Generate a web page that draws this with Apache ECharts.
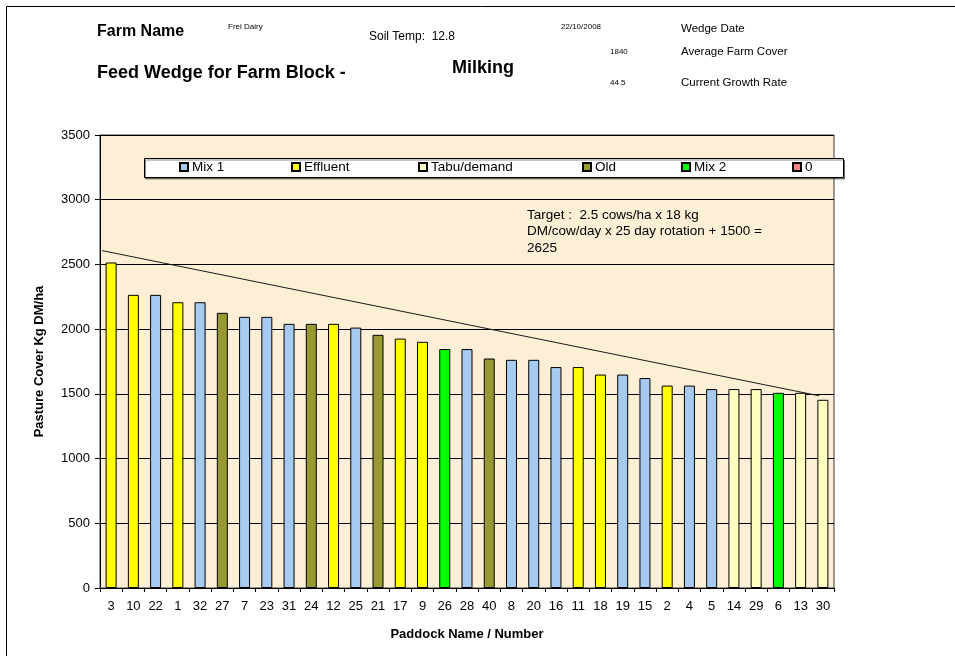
<!DOCTYPE html>
<html>
<head>
<meta charset="utf-8">
<script src="https://cdn.jsdelivr.net/npm/echarts@6/dist/echarts.min.js"></script>
<style>
  html, body { margin: 0; padding: 0; background: #fff; }
  #chart { width: 955px; height: 656px; }
</style>
</head>
<body>
<div id="chart"></div>
<script>
// paddocks, sorted by cover
var paddocks = ["3", "10", "22", "1", "32", "27", "7", "23", "31", "24", "12", "25", "21", "17", "9", "26", "28",
  "40", "8", "20", "16", "11", "18", "19", "15", "2", "4", "5", "14", "29", "6", "13", "30"];
var cover = [2515, 2265, 2265, 2208, 2208, 2126, 2095, 2095, 2041, 2041, 2041, 2012, 1956, 1927, 1902, 1846, 1846,
  1773, 1763, 1763, 1707, 1707, 1649, 1649, 1622, 1564, 1564, 1537, 1537, 1537, 1508, 1508, 1454];
var paddockType = ["Effluent", "Effluent", "Mix 1", "Effluent", "Mix 1", "Old", "Mix 1", "Mix 1", "Mix 1", "Old",
  "Effluent", "Mix 1", "Old", "Effluent", "Effluent", "Mix 2", "Mix 1", "Old", "Mix 1", "Mix 1", "Mix 1",
  "Effluent", "Effluent", "Mix 1", "Mix 1", "Effluent", "Mix 1", "Mix 1", "Tabu/demand", "Tabu/demand",
  "Mix 2", "Tabu/demand", "Tabu/demand"];
var typeNames = ["Mix 1", "Effluent", "Tabu/demand", "Old", "Mix 2", "0"];
var typeColors = ["#A6CAF0", "#FFFF00", "#FFFFC0", "#999933", "#00FF00", "#FF8080"];
// target wedge line (position along the paddock axis, cover)
var targetX = [0.09, 32.33];
var targetY = [2607, 1485];
var yTicks = [0, 500, 1000, 1500, 2000, 2500, 3000, 3500];

var FONT = 'Arial, "Liberation Sans", sans-serif';
var chart = echarts.init(document.getElementById("chart"));

var series = typeNames.map(function (name, i) {
  return {
    name: name,
    type: "bar",
    stack: "cover",
    barWidth: 11,
    xAxisIndex: 0,
    itemStyle: { color: typeColors[i], borderColor: "#000", borderWidth: 1 },
    data: cover.map(function (v, j) {
      return paddockType[j] === name ? v : "-";
    }),
  };
});
series.push({
  name: "Target",
  type: "line",
  xAxisIndex: 1,
  symbol: "none",
  lineStyle: { color: "#1a1a1a", width: 1 },
  data: targetX.map(function (x, i) { return [x, targetY[i]]; }),
  z: 5,
});

// one legend per item so the spacing follows the original box
var legendLeft = [179, 291, 418, 582, 681, 792];
var legends = typeNames.map(function (name, i) {
  return {
    data: [name],
    left: legendLeft[i],
    top: 160,
    padding: 0,
    icon: "rect",
    itemWidth: 8,
    itemHeight: 8,
    itemGap: 4,
    selectedMode: false,
    textStyle: { fontFamily: FONT, fontSize: 13.5, color: "#000", padding: [2, 0, 0, -1] },
  };
});

function txt(x, y, s, size, bold) {
  return {
    type: "text",
    x: x,
    y: y,
    style: {
      text: s,
      font: (bold ? "bold " : "") + size + "px " + FONT,
      fill: "#000",
      verticalAlign: "middle",
    },
  };
}

chart.setOption({
  animation: false,
  backgroundColor: "#fff",
  grid: {
    left: 100,
    right: 121,
    top: 135,
    bottom: 68,
    show: true,
    backgroundColor: "#FCEFD6",
    borderColor: "#3a3a3a",
    borderWidth: 1,
  },
  legend: legends,
  xAxis: [
    {
      type: "category",
      data: paddocks,
      name: "Paddock Name / Number",
      nameLocation: "middle",
      nameGap: 40,
      nameTextStyle: { fontFamily: FONT, fontSize: 13, fontWeight: "bold", color: "#000" },
      axisLine: { lineStyle: { color: "#000" } },
      axisTick: { show: true, length: 4, lineStyle: { color: "#000" } },
      axisLabel: { fontFamily: FONT, fontSize: 13, color: "#000", margin: 12, interval: 0 },
    },
    { type: "value", min: 0, max: paddocks.length, show: false },
  ],
  yAxis: {
    type: "value",
    min: yTicks[0],
    max: yTicks[yTicks.length - 1],
    interval: yTicks[1] - yTicks[0],
    name: "Pasture Cover Kg DM/ha",
    nameLocation: "middle",
    nameGap: 54,
    nameTextStyle: { fontFamily: FONT, fontSize: 13, fontWeight: "bold", color: "#000" },
    axisLine: { show: true, lineStyle: { color: "#000" } },
    axisTick: { show: true, length: 5, lineStyle: { color: "#000" } },
    axisLabel: { fontFamily: FONT, fontSize: 13, color: "#000", margin: 10,
      formatter: function (v) { return String(v); } },
    splitLine: { lineStyle: { color: "#000", width: 1 } },
  },
  graphic: [
    // outer frame
    { type: "rect", left: 4, top: 4, z: -10, silent: true,
      shape: { x: 0, y: 0, width: 1000, height: 1000 },
      style: { fill: "none", stroke: "#000", lineWidth: 1 } },
    // legend box
    { type: "rect", left: 144, top: 158, z: 1,
      shape: { width: 699, height: 19 },
      style: { fill: "#fff", stroke: "#000", lineWidth: 1,
        shadowColor: "rgba(0,0,0,0.45)", shadowOffsetX: 1, shadowOffsetY: 1.5 } },
    txt(97, 32, "Farm Name", 16, true),
    txt(228, 27, "Frei Dairy", 8, false),
    txt(369, 37, "Soil Temp:  12.8", 12, false),
    txt(561, 27, "22/10/2008", 8, false),
    txt(681, 29, "Wedge Date", 11.5, false),
    txt(610, 52, "1840", 8, false),
    txt(681, 52, "Average Farm Cover", 11.5, false),
    txt(97, 73, "Feed Wedge for Farm Block -", 18, true),
    txt(452, 68, "Milking", 18, true),
    txt(610, 83, "44.5", 8, false),
    txt(681, 83, "Current Growth Rate", 11.5, false),
    {
      type: "text", left: 527, top: 207, z: 10,
      style: {
        text: "Target :  2.5 cows/ha x 18 kg\nDM/cow/day x 25 day rotation + 1500 =\n2625",
        font: "13.5px " + FONT, fill: "#000", lineHeight: 16.5,
      },
    },
  ],
  series: series,
});
</script>
</body>
</html>
